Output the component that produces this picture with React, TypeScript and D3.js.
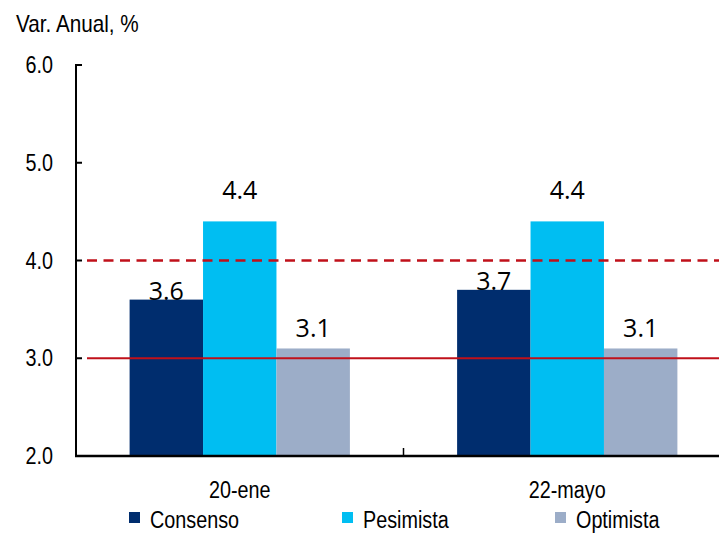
import React from "react";
import * as d3 from "d3";

const categories = ["20-ene", "22-mayo"];
const seriesNames = ["Consenso", "Pesimista", "Optimista"];
const consenso = [3.6, 3.7];
const pesimista = [4.4, 4.4];
const optimista = [3.1, 3.1];
const yTicks = [2.0, 3.0, 4.0, 5.0, 6.0];
const solidRef = 3.0;
const dashedRef = 4.0;
const yTitle = "Var. Anual, %";

const colors = ["#002D6E", "#00BEF2", "#9CADC8"];
const labelOffsets = [0, 22, 11];
const W = 719;
const H = 533;
const m = { left: 76, top: 65, right: 731, bottom: 456 };

export default function App() {
  const series = [consenso, pesimista, optimista];
  const x0 = d3.scaleBand<string>().domain(categories).range([m.left, m.right]).paddingInner(0).paddingOuter(0);
  const x1 = d3
    .scaleBand<string>()
    .domain(seriesNames)
    .range([0, x0.bandwidth()])
    .paddingInner(0)
    .paddingOuter(0.73);
  const y = d3.scaleLinear().domain([2, 6]).range([m.bottom, m.top]);
  const sx = 0.86;
  const font = "'Liberation Sans', Arial, sans-serif";

  return (
    <div style={{ position: "fixed", left: 0, top: 0 }}>
      <svg width={W} height={H} style={{ display: "block", background: "#fff" }}>
        {/* title */}
        <g transform={`translate(16,32) scale(0.9,1)`}>
          <text fontFamily={font} fontSize={23} fill="#000">
            {yTitle}
          </text>
        </g>
        {/* bars */}
        {categories.map((c, ci) => (
          <g key={c} transform={`translate(${x0(c)},0)`}>
            {seriesNames.map((s, si) => (
              <rect
                key={s}
                x={x1(s)}
                y={y(series[si][ci])}
                width={x1.bandwidth()}
                height={y(2) - y(series[si][ci])}
                fill={colors[si]}
              />
            ))}
          </g>
        ))}
        {/* reference lines */}
        <line x1={87} x2={m.right} y1={y(solidRef)} y2={y(solidRef)} stroke="#C0101A" strokeWidth={2} />
        <line
          x1={87}
          x2={m.right}
          y1={y(dashedRef)}
          y2={y(dashedRef)}
          stroke="#C0101A"
          strokeWidth={2.5}
          strokeDasharray="10,6.5"
        />
        {/* value labels */}
        {categories.map((c, ci) =>
          seriesNames.map((s, si) => (
            <text
              key={c + s}
              x={(x0(c) as number) + (x1(s) as number) + x1.bandwidth() / 2}
              y={y(series[si][ci]) - labelOffsets[si]}
              textAnchor="middle"
              fontFamily="'Open Sans', sans-serif"
              fontSize={25}
              fill="#000"
            >
              {series[si][ci].toFixed(1)}
            </text>
          ))
        )}
        {/* y axis */}
        <line x1={m.left} x2={m.left} y1={m.top - 1} y2={m.bottom + 1} stroke="#000" strokeWidth={2} />
        {yTicks.map((t) => (
          <g key={t}>
            <line x1={m.left} x2={m.left + 6} y1={y(t)} y2={y(t)} stroke="#000" strokeWidth={2} />
            <g transform={`translate(53,${y(t) + 8}) scale(${sx},1)`}>
              <text textAnchor="end" fontFamily={font} fontSize={23} fill="#000">
                {t.toFixed(1)}
              </text>
            </g>
          </g>
        ))}
        {/* x axis */}
        <line x1={m.left - 1} x2={m.right} y1={m.bottom} y2={m.bottom} stroke="#000" strokeWidth={2.5} />
        {categories.slice(1).map((c) => (
          <line key={c} x1={x0(c)} x2={x0(c)} y1={m.bottom} y2={m.bottom - 8} stroke="#000" strokeWidth={1.5} />
        ))}
        {categories.map((c) => (
          <g key={c} transform={`translate(${(x0(c) as number) + x0.bandwidth() / 2},498) scale(${sx},1)`}>
            <text textAnchor="middle" fontFamily={font} fontSize={23} fill="#000">
              {c}
            </text>
          </g>
        ))}
        {/* legend */}
        {seriesNames.map((s, i) => {
          const lx = 129 + i * 213;
          return (
            <g key={s}>
              <rect x={lx} y={512} width={11} height={11} fill={colors[i]} />
              <g transform={`translate(${lx + 21},528) scale(${sx},1)`}>
                <text fontFamily={font} fontSize={23} fill="#000">
                  {s}
                </text>
              </g>
            </g>
          );
        })}
      </svg>
    </div>
  );
}
